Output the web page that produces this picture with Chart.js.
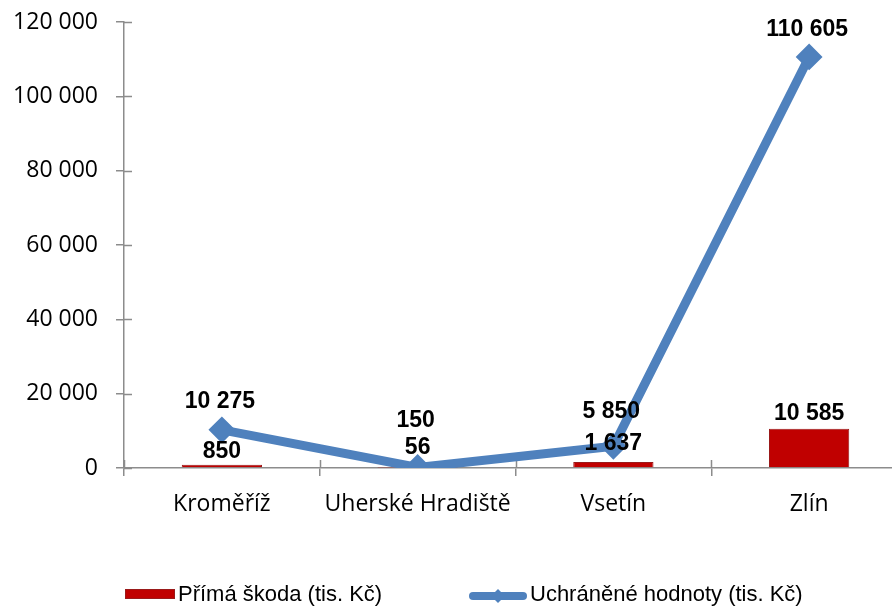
<!DOCTYPE html>
<html>
<head>
<meta charset="utf-8">
<script src="https://cdn.jsdelivr.net/npm/chart.js@4/dist/chart.umd.min.js"></script>
<style>
html,body{margin:0;padding:0;background:#fff;overflow:hidden;width:892px;height:606px;}
#wrap{width:892px;height:606px;overflow:hidden;position:relative;}
canvas{display:block;}
</style>
</head>
<body>
<div id="wrap"><canvas id="c" width="908" height="606"></canvas></div>
<script>
const categories = ['Kroměříž', 'Uherské Hradiště', 'Vsetín', 'Zlín'];
const primaSkoda = [850, 56, 1637, 10585];
const uchraneneHodnoty = [10275, 150, 5850, 110605];
const seriesNames = ['Přímá škoda (tis. Kč)', 'Uchráněné hodnoty (tis. Kč)'];
const yTicks = [0, 20000, 40000, 60000, 80000, 100000, 120000];

const fmt = v => String(v).replace(/\B(?=(\d{3})+(?!\d))/g, ' ');

const AXIS = '#8c8c8c';
const RED = '#C00000';
const BLUE = '#4F81BD';

// label vertical offsets (px above mark)
const barLabelOffset = [13, 20, 18, 15];
const lineLabelOffset = [28, 47, 35, 27];

const innerTicks = {
  id: 'innerTicks',
  beforeDatasetsDraw(chart) {
    const ctx = chart.ctx, xs = chart.scales.x, ys = chart.scales.y;
    ctx.save();
    ctx.strokeStyle = AXIS; ctx.lineWidth = 1.5;
    ctx.beginPath();
    yTicks.forEach(v => {
      const y = Math.round(ys.getPixelForValue(v)) + 0.5;
      ctx.moveTo(xs.left, y); ctx.lineTo(xs.left + 8, y);
    });
    const n = categories.length, w = (xs.right - xs.left) / n;
    for (let i = 0; i <= n; i++) {
      const x = Math.round(xs.left + i * w) + 0.5;
      ctx.moveTo(x, ys.bottom); ctx.lineTo(x, ys.bottom - 8);
    }
    ctx.stroke();
    ctx.restore();
  }
};

const valueLabels = {
  id: 'valueLabels',
  afterDatasetsDraw(chart) {
    const ctx = chart.ctx;
    ctx.save();
    ctx.font = 'bold 23px "Liberation Sans", Arial, sans-serif';
    ctx.fillStyle = '#000';
    ctx.textAlign = 'center';
    ctx.textBaseline = 'middle';
    const barMeta = chart.getDatasetMeta(0);
    barMeta.data.forEach((el, i) => {
      ctx.fillText(fmt(primaSkoda[i]), el.x, el.y - barLabelOffset[i]);
    });
    const lineMeta = chart.getDatasetMeta(1);
    lineMeta.data.forEach((el, i) => {
      ctx.fillText(fmt(uchraneneHodnoty[i]), el.x - 2, el.y - lineLabelOffset[i]);
    });
    ctx.restore();
  }
};

const customLegend = {
  id: 'customLegend',
  afterDraw(chart) {
    const ctx = chart.ctx;
    ctx.save();
    const cy = 595;
    ctx.fillStyle = RED;
    ctx.fillRect(125, 589, 50, 10);
    ctx.strokeStyle = '#9a1a1a'; ctx.lineWidth = 1;
    ctx.strokeRect(125.5, 589.5, 49, 9);
    ctx.font = '22px "Liberation Sans", Arial, sans-serif';
    ctx.fillStyle = '#000';
    ctx.textAlign = 'left';
    ctx.textBaseline = 'middle';
    ctx.fillText(chart.data.datasets[0].label, 178, cy);
    ctx.strokeStyle = BLUE; ctx.lineWidth = 8; ctx.lineCap = 'round';
    ctx.beginPath(); ctx.moveTo(473, 596); ctx.lineTo(523, 596); ctx.stroke();
    ctx.fillStyle = BLUE;
    ctx.beginPath();
    ctx.moveTo(498, 589); ctx.lineTo(505, 596); ctx.lineTo(498, 603); ctx.lineTo(491, 596);
    ctx.closePath(); ctx.fill();
    ctx.fillStyle = '#000';
    ctx.fillText(chart.data.datasets[1].label, 530, cy);
    ctx.restore();
  }
};

new Chart(document.getElementById('c'), {
  type: 'bar',
  data: {
    labels: categories,
    datasets: [
      {
        type: 'bar',
        label: seriesNames[0],
        data: primaSkoda,
        backgroundColor: RED,
        borderColor: '#9a1a1a',
        borderWidth: 1,
        barPercentage: 0.41,
        categoryPercentage: 1,
        order: 1
      },
      {
        type: 'line',
        label: seriesNames[1],
        data: uchraneneHodnoty,
        borderColor: BLUE,
        backgroundColor: BLUE,
        borderWidth: 9,
        pointStyle: 'rectRot',
        pointRadius: 12,
        pointBorderWidth: 2,
        pointBackgroundColor: BLUE,
        pointBorderColor: BLUE,
        tension: 0,
        order: 0
      }
    ]
  },
  options: {
    responsive: false,
    animation: false,
    layout: { autoPadding: false, padding: { left: 0, right: 1, top: 22, bottom: 0 } },
    plugins: {
      legend: { display: false },
      tooltip: { enabled: false }
    },
    scales: {
      x: {
        offset: true,
        grid: { display: true, drawOnChartArea: false, drawTicks: true, tickLength: 8, color: AXIS, lineWidth: 1.5, offset: true },
        border: { display: true, color: AXIS, width: 1.5 },
        ticks: { color: '#000', font: { family: '"Open Sans", sans-serif', size: 23 }, padding: 15, maxRotation: 0, autoSkip: false },
        afterFit(scale) { scale.height = 138; scale.paddingLeft = 0; scale.paddingRight = 0; }
      },
      y: {
        min: 0, max: 120000,
        afterBuildTicks(scale) { scale.ticks = yTicks.map(v => ({ value: v })); },
        grid: { display: true, drawOnChartArea: false, drawTicks: true, tickLength: 8, color: AXIS, lineWidth: 1.5 },
        border: { display: true, color: AXIS, width: 1.5 },
        ticks: { color: '#000', font: { family: '"Open Sans", sans-serif', size: 23 }, padding: 18, callback: v => fmt(v) },
        afterFit(scale) { scale.width = 124; scale.paddingTop = 0; scale.paddingBottom = 0; }
      }
    }
  },
  plugins: [innerTicks, valueLabels, customLegend]
});
</script>
</body>
</html>
